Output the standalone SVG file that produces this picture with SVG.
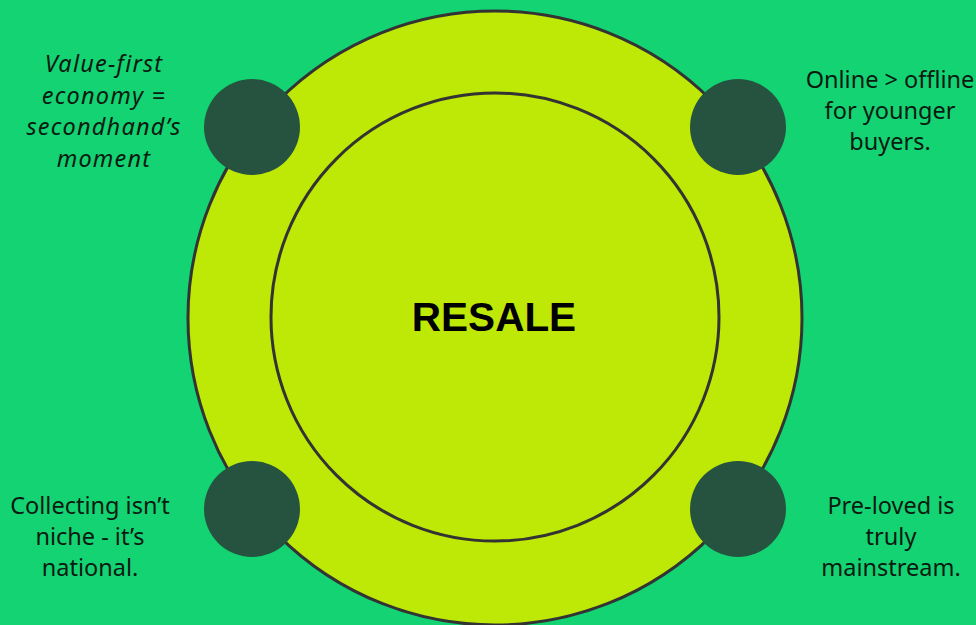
<svg xmlns="http://www.w3.org/2000/svg" width="976" height="625" viewBox="0 0 976 625">
<style>
.lbl{font-family:"Noto Sans","Liberation Sans",sans-serif;font-size:23.5px;fill:#0b1a10;text-anchor:middle}
.dot{fill:#265240}
.ring{fill:#BEE806;stroke:#333333;stroke-width:3}
</style>
<rect width="976" height="625" fill="#13D373"/>
<g id="outer-circle"><circle class="ring" cx="495" cy="318" r="307"/></g>
<g id="inner-circle"><circle class="ring" cx="495" cy="317" r="224"/></g>
<g id="center"><text x="494" y="331" font-family="'Liberation Sans',Arial,sans-serif" font-size="40.5" font-weight="bold" text-anchor="middle" fill="#000">RESALE</text></g>
<g id="connectors"></g>
<g id="node-tl">
<circle class="dot" cx="252" cy="127" r="48"/>
<text class="lbl" font-style="italic" letter-spacing="1.2"><tspan x="104" y="72">Value-first</tspan><tspan x="104" y="104">economy =</tspan><tspan x="104" y="135">secondhand’s</tspan><tspan x="104" y="167">moment</tspan></text>
</g>
<g id="node-tr">
<circle class="dot" cx="738" cy="127" r="48"/>
<text class="lbl"><tspan x="890" y="88">Online &gt; offline</tspan><tspan x="890" y="119">for younger</tspan><tspan x="890" y="150">buyers.</tspan></text>
</g>
<g id="node-bl">
<circle class="dot" cx="252" cy="509" r="48"/>
<text class="lbl"><tspan x="90" y="514">Collecting isn’t</tspan><tspan x="90" y="545">niche - it’s</tspan><tspan x="90" y="576">national.</tspan></text>
</g>
<g id="node-br">
<circle class="dot" cx="738" cy="509" r="48"/>
<text class="lbl"><tspan x="891" y="514">Pre-loved is</tspan><tspan x="891" y="545">truly</tspan><tspan x="891" y="576">mainstream.</tspan></text>
</g>
</svg>
